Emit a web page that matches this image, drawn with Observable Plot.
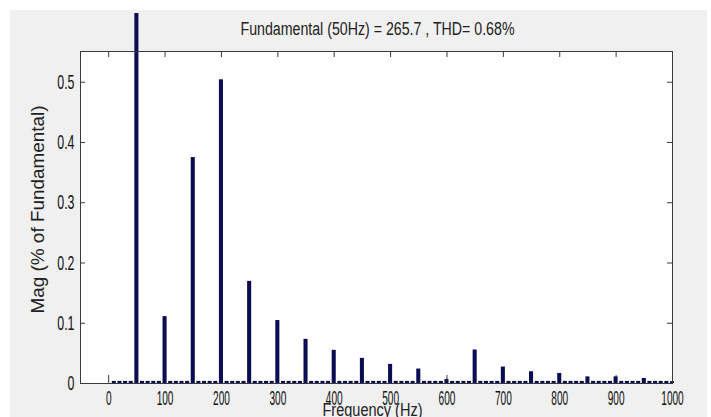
<!DOCTYPE html>
<html>
<head>
<meta charset="utf-8">
<script src="https://cdn.jsdelivr.net/npm/d3@7"></script>
<script src="https://cdn.jsdelivr.net/npm/@observablehq/plot@0.6"></script>
<style>
  html, body { margin: 0; padding: 0; background: #ffffff; }
  #fig { position: absolute; left: 10px; top: 10px; width: 697px; height: 407px; background: #f0f0f0; overflow: hidden; }
  #fig svg { display: block; margin-top: 3px; }
</style>
</head>
<body>
<div id="fig"></div>
<script>
// Harmonic bins (multiples of 50 Hz), magnitude in % of fundamental
const harmonicHz  = [0, 50, 100, 150, 200, 250, 300, 350, 400, 450, 500, 550, 600, 650, 700, 750, 800, 850, 900, 950, 1000];
const harmonicMag = [0, 100, 0.111, 0.375, 0.504, 0.1695, 0.1045, 0.0733, 0.055, 0.0417, 0.0317, 0.024, 0.0065, 0.0556, 0.0273, 0.0195, 0.0167, 0.011, 0.011, 0.0083, 0.003];

// Inter-harmonic bins (10 Hz resolution), tiny magnitudes
const interHz = d3.range(10, 1000, 10).filter(f => f % 50 !== 0);
const interMag = [
  0.0035, 0.0035, 0.0035, 0.0035,  0.0035, 0.0035, 0.0035, 0.0035,
  0.0035, 0.0035, 0.0035, 0.0035,  0.0035, 0.0035, 0.0035, 0.0035,
  0.0035, 0.0035, 0.0035, 0.0035,  0.0035, 0.0035, 0.0035, 0.0035,
  0.0035, 0.0035, 0.0035, 0.0035,  0.0035, 0.0035, 0.0035, 0.0035,
  0.0035, 0.0035, 0.0035, 0.0035,  0.0035, 0.0035, 0.0035, 0.0035,
  0.0035, 0.0035, 0.0035, 0.0035,  0.0035, 0.0035, 0.0035, 0.0035,
  0.0035, 0.0035, 0.0035, 0.0035,  0.0035, 0.0035, 0.0035, 0.0035,
  0.0035, 0.0035, 0.0035, 0.0035,  0.0035, 0.0035, 0.0035, 0.0035,
  0.0035, 0.0035, 0.0035, 0.0035,  0.0035, 0.0035, 0.0035, 0.0035,
  0.0035, 0.0035, 0.0035, 0.0035,  0.0035, 0.0035, 0.0035, 0.0035
];

const xTicks = [0, 100, 200, 300, 400, 500, 600, 700, 800, 900, 1000];
const yTicks = [0, 0.1, 0.2, 0.3, 0.4, 0.5];

const titleText = "Fundamental (50Hz) = 265.7 , THD= 0.68%";
const xLabel = "Frequency (Hz)";
const yLabel = "Mag (% of Fundamental)";

const bars = [
  ...harmonicHz.map((f, i) => ({f, m: harmonicMag[i]})),
  ...interHz.map((f, i) => ({f, m: interMag[i]}))
];

const W = 697, H = 404, ML = 70, MR = 35, MT = 38, MB = 34;
const FW = W - ML - MR, FH = H - MT - MB;
const barColor = "#0c0c52";
const axisColor = "#3a3a3a";
const halfBin = 3.6;

const svg = Plot.plot({
  width: W, height: H,
  marginLeft: ML, marginRight: MR, marginTop: MT, marginBottom: MB,
  x: {domain: [-50, 1000]},
  y: {domain: [0, 0.551]},
  style: {background: "transparent", overflow: "hidden", fontFamily: "Arial, 'Liberation Sans', sans-serif", color: "#111"},
  marks: [
    Plot.frame({fill: "white", stroke: null}),
    Plot.tickX(xTicks, {x: d => d, insetTop: FH - 8, stroke: axisColor}),
    Plot.tickX(xTicks, {x: d => d, insetBottom: FH - 6, stroke: axisColor}),
    Plot.tickY(yTicks, {y: d => d, insetRight: FW - 5, stroke: axisColor}),
    Plot.tickY(yTicks, {y: d => d, insetLeft: FW - 5, stroke: axisColor}),
    Plot.rect(bars, {x1: d => d.f - halfBin, x2: d => d.f + halfBin, y1: 0, y2: "m", fill: barColor}),
    Plot.frame({stroke: axisColor, fill: "none"}),
    Plot.axisX({ticks: xTicks, tickSize: 0, tickPadding: 7, tickFormat: d => String(d), label: null, fontSize: 21, fill: "#111"}),
    Plot.axisY({ticks: yTicks, tickSize: 0, tickPadding: 6, tickFormat: d => String(d), label: null, fontSize: 21, fill: "#111"}),
    Plot.text([titleText], {text: d => d, frameAnchor: "top", textAnchor: "middle", dy: -17, dx: 1, lineAnchor: "bottom", fontSize: 18, fill: "#222"}),
    Plot.text([xLabel], {text: d => d, frameAnchor: "bottom", textAnchor: "middle", dy: 32, dx: -4, lineAnchor: "bottom", fontSize: 18, fill: "#222"}),
    Plot.text([yLabel], {text: d => d, frameAnchor: "left", textAnchor: "middle", rotate: -90, dx: -37, dy: -8, lineAnchor: "bottom", fontSize: 19, fill: "#222"})
  ]
});

document.getElementById("fig").appendChild(svg);

function fit(t, len) {
  t.setAttribute("textLength", len);
  t.setAttribute("lengthAdjust", "spacingAndGlyphs");
}
svg.querySelectorAll('g[aria-label="x-axis tick label"] text').forEach(t => fit(t, t.getComputedTextLength() * 0.48));
svg.querySelectorAll('g[aria-label="y-axis tick label"] text').forEach(t => fit(t, t.getComputedTextLength() * 0.59));
const targets = {[titleText]: 274, [xLabel]: 100, [yLabel]: 208};
svg.querySelectorAll("text").forEach(t => {
  const s = t.textContent;
  if (targets[s] != null) fit(t, targets[s]);
});
</script>
</body>
</html>
